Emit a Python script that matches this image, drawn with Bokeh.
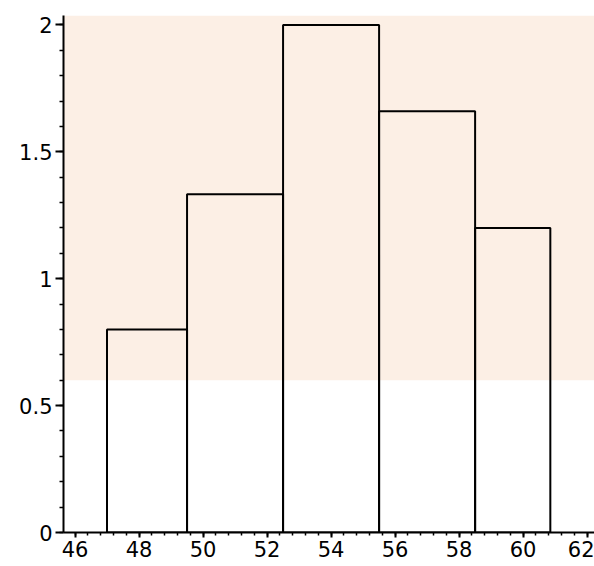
from bokeh.plotting import figure
from bokeh.models import Range1d, FixedTicker, BoxAnnotation
from bokeh.embed import file_html
from bokeh.resources import INLINE

# histogram data
bin_edges = [47.0, 49.5, 52.5, 55.5, 58.5, 60.85]
heights = [0.8, 1.333, 2.0, 1.66, 1.2]
x_ticks = [46, 48, 50, 52, 54, 56, 58, 60, 62]
y_ticks = [0, 0.5, 1, 1.5, 2]
y_tick_labels = {0: "0", 0.5: "0.5", 1: "1", 1.5: "1.5", 2: "2"}

FONT = "DejaVu Sans"

p = figure(width=594, height=566, output_backend="svg", toolbar_location=None,
           x_range=Range1d(45.64, 62.23), y_range=Range1d(0, 2.037),
           min_border_left=63, min_border_right=0, min_border_top=15, min_border_bottom=34)

p.background_fill_color = "white"
p.border_fill_color = "white"
p.outline_line_color = None
p.grid.visible = False

# faint tinted paper of the scan (upper part)
p.add_layout(BoxAnnotation(bottom=0.6, fill_color="#fcefe5", fill_alpha=1.0,
                           line_color=None, level="underlay"))

p.quad(left=bin_edges[:-1], right=bin_edges[1:], bottom=0, top=heights,
       fill_alpha=0, line_color="black", line_width=2)

# x axis
minor_x = [46 + 0.4 * i for i in range(0, 41)]
p.xaxis.ticker = FixedTicker(ticks=x_ticks, minor_ticks=minor_x)
p.xaxis.axis_line_color = "black"
p.xaxis.axis_line_width = 2
p.xaxis.major_tick_line_color = "black"
p.xaxis.major_tick_line_width = 2
p.xaxis.major_tick_out = 5
p.xaxis.major_tick_in = 0
p.xaxis.minor_tick_line_color = "black"
p.xaxis.minor_tick_line_width = 1.5
p.xaxis.minor_tick_out = 3
p.xaxis.minor_tick_in = 0
p.xaxis.major_label_standoff = 3
p.xaxis.major_label_text_font = FONT
p.xaxis.major_label_text_font_size = "21px"
p.xaxis.major_label_text_color = "black"

# y axis
minor_y = [round(0.1 * i, 2) for i in range(0, 21)]
p.yaxis.ticker = FixedTicker(ticks=y_ticks, minor_ticks=minor_y)
p.yaxis.major_label_overrides = y_tick_labels
p.yaxis.axis_line_color = "black"
p.yaxis.axis_line_width = 2
p.yaxis.major_tick_line_color = "black"
p.yaxis.major_tick_line_width = 2
p.yaxis.major_tick_out = 8
p.yaxis.major_tick_in = 0
p.yaxis.minor_tick_line_color = "black"
p.yaxis.minor_tick_line_width = 1.5
p.yaxis.minor_tick_out = 4
p.yaxis.minor_tick_in = 0
p.yaxis.major_label_standoff = 3
p.yaxis.major_label_text_font = FONT
p.yaxis.major_label_text_font_size = "21px"
p.yaxis.major_label_text_color = "black"

open("out.html", "w").write(file_html(p, INLINE))
